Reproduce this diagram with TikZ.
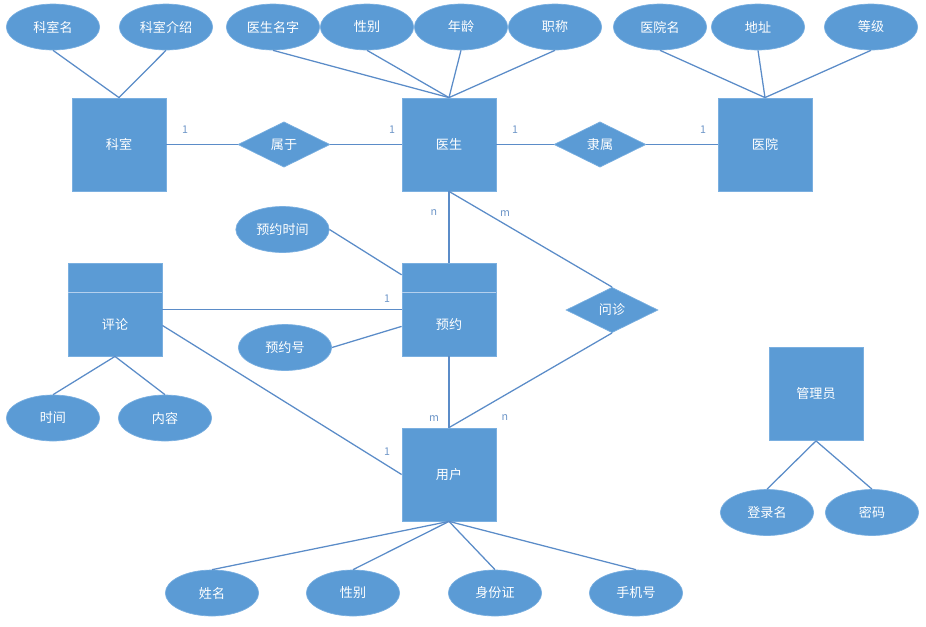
\documentclass[tikz,border=0pt]{standalone}
\usepackage{fontspec}
\setmainfont{Noto Sans CJK SC}
\usetikzlibrary{shapes.geometric,calc}
\definecolor{erfill}{HTML}{5B9BD5}
\definecolor{eredge}{HTML}{7AAFE0}
\definecolor{erline}{HTML}{5B8CC8}
\definecolor{erdiv}{HTML}{B4D0EE}
\definecolor{ercard}{HTML}{6E96C8}
\begin{document}
\begin{tikzpicture}[x=0.75pt,y=-0.75pt,
  every node/.style={font=\fontsize{9.8}{12}\selectfont, text=white},
  entity/.style={rectangle, fill=erfill, draw=eredge, line width=0.6pt,
    minimum width=70.5pt, minimum height=69.75pt, inner sep=0pt},
  attr/.style={ellipse, fill=erfill, draw=eredge, line width=0.5pt,
    minimum width=70pt, minimum height=34.5pt, inner sep=0pt},
  rel/.style={diamond, fill=erfill, draw=eredge, line width=0.5pt,
    minimum width=69pt, minimum height=34pt, inner sep=0pt},
  conn/.style={draw=erline, line width=0.95pt},
  divider/.style={draw=erdiv, line width=0.7pt},
  card/.style={font=\fontsize{8}{9}\selectfont, text=ercard, inner sep=0pt}]
\useasboundingbox (0,0) rectangle (926,626);

% ---------- entities ----------
\node[entity] (keshi) at (119,144.5) {科室};
\node[entity] (yisheng) at (449,144.5) {医生};
\node[entity] (yiyuan) at (765,144.5) {医院};
\node[entity] (pinglun) at (115,309.5) {};
\node[entity] (yuyue) at (449,309.5) {};
\node[entity] (yonghu) at (449,474.5) {用户};
\node[entity] (guanli) at (816,394) {管理员};

% weak-entity header bars and their names
\draw[divider] ($(pinglun.north west)!0.32!(pinglun.south west)$) -- ($(pinglun.north east)!0.32!(pinglun.south east)$);
\draw[divider] ($(yuyue.north west)!0.32!(yuyue.south west)$) -- ($(yuyue.north east)!0.32!(yuyue.south east)$);
\node (pinglunt) at (115,325) {评论};
\node (yuyuet) at (449,325) {预约};

% ---------- relationships ----------
\node[rel] (shuyu) at (284,144.5) {属于};
\node[rel] (lishu) at (600,144.5) {隶属};
\node[rel] (wenzhen) at (612,310) {问诊};

% ---------- attributes ----------
\node[attr] (ksm) at (53,27) {科室名};
\node[attr] (ksjs) at (166,27) {科室介绍};
\node[attr] (ysmz) at (273,27) {医生名字};
\node[attr] (ysxb) at (367,27) {性别};
\node[attr] (ysnl) at (461,27) {年龄};
\node[attr] (yszc) at (555,27) {职称};
\node[attr] (yym) at (660,27) {医院名};
\node[attr] (yydz) at (758,27) {地址};
\node[attr] (yydj) at (871,27) {等级};
\node[attr] (yysj) at (282.5,229.5) {预约时间};
\node[attr] (yyh) at (285,347.5) {预约号};
\node[attr] (plsj) at (53,418) {时间};
\node[attr] (plnr) at (165,418) {内容};
\node[attr] (yhxm) at (212,593) {姓名};
\node[attr] (yhxb) at (353,593) {性别};
\node[attr] (yhsfz) at (495,593) {身份证};
\node[attr] (yhsj) at (636,593) {手机号};
\node[attr] (dlm) at (767,512.5) {登录名};
\node[attr] (mm) at (872,512.5) {密码};

% ---------- attribute links ----------
\foreach \a in {ksm,ksjs} \draw[conn] (\a.south) -- (keshi.north);
\foreach \a in {ysmz,ysxb,ysnl,yszc} \draw[conn] (\a.south) -- (yisheng.north);
\foreach \a in {yym,yydz,yydj} \draw[conn] (\a.south) -- (yiyuan.north);
\foreach \a in {plsj,plnr} \draw[conn] (pinglun.south) -- (\a.north);
\foreach \a in {yhxm,yhxb,yhsfz,yhsj} \draw[conn] (yonghu.south) -- (\a.north);
\foreach \a in {dlm,mm} \draw[conn] (guanli.south) -- (\a.north);
\draw[conn] (yysj.east) -- ($(yuyue.north west)!0.13!(yuyue.south west)$);
\draw[conn] (yyh.east) -- ($(yuyue.north west)!0.68!(yuyue.south west)$);

% ---------- relationship links ----------
\draw[conn] (keshi.east) -- (shuyu.west);
\draw[conn] (shuyu.east) -- (yisheng.west);
\draw[conn] (yisheng.east) -- (lishu.west);
\draw[conn] (lishu.east) -- (yiyuan.west);
\draw[conn] (yisheng.south) -- (yuyue.north);
\draw[conn] (yuyue.south) -- (yonghu.north);
\draw[conn] (yisheng.south) -- (wenzhen.north);
\draw[conn] (wenzhen.south) -- (yonghu.north);
\draw[conn] (pinglun.east) -- (yuyue.west);
\draw[conn] ($(pinglun.north east)!0.67!(pinglun.south east)$) -- (yonghu.west);

% ---------- cardinalities ----------
\node[card] (c1) at (185,130) {1};
\node[card] (c2) at (392,130) {1};
\node[card] (c3) at (515,130) {1};
\node[card] (c4) at (703,130) {1};
\node[card] (c5) at (434,213) {n};
\node[card] (c6) at (505,214) {m};
\node[card] (c7) at (387,299) {1};
\node[card] (c8) at (434,419) {m};
\node[card] (c9) at (505,418) {n};
\node[card] (c10) at (387,452) {1};
\end{tikzpicture}
\end{document}
